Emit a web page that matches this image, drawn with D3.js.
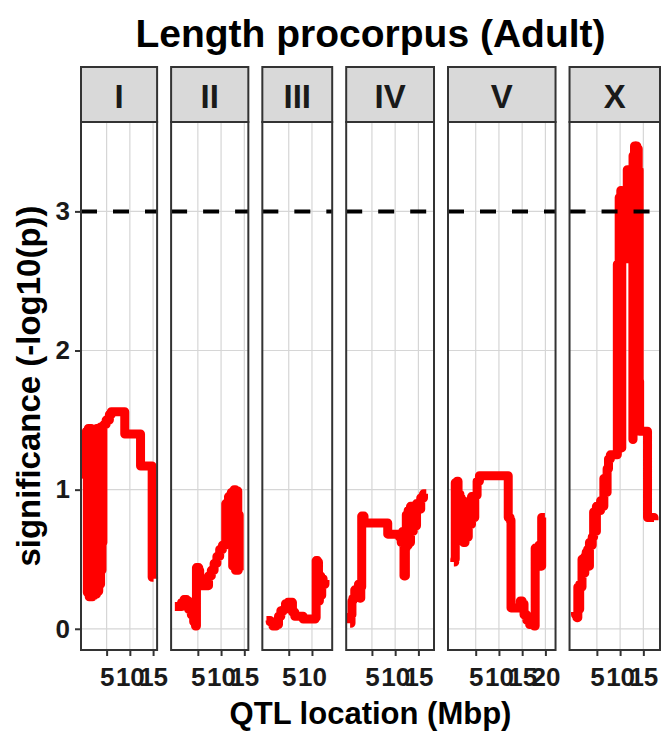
<!DOCTYPE html>
<html>
<head>
<meta charset="utf-8">
<script src="https://cdn.jsdelivr.net/npm/d3@7/dist/d3.min.js"></script>
<style>
  body { margin: 0; background: #fff; }
  svg { display: block; }
  text { font-family: "Liberation Sans", Arial, sans-serif; font-weight: bold; }
</style>
</head>
<body>
<svg id="chart" width="661" height="733"></svg>
<script>
// ---- data -------------------------------------------------------------
const chromosomes = ["I", "II", "III", "IV", "V", "X"];
// physical span (Mbp) covered by markers on each chromosome
const spanStart = [0.23, 0.00, 0.00, 0.32, 0.09, 0.00];
const spanEnd   = [15.12, 15.11, 13.67, 17.50, 21.13, 17.70];
const xTickValues = [[5, 10, 15], [5, 10, 15], [5, 10], [5, 10, 15], [5, 10, 15, 20], [5, 10, 15]];
const yTickValues = [0, 1, 2, 3];
const threshold = 3;

const posI = [0.30, 0.35, 0.55, 0.65, 0.85, 1.05, 1.25, 1.50, 1.70, 1.95, 2.15, 2.40, 2.60, 2.85, 3.05, 3.30, 3.50, 3.70, 3.85, 4.00, 4.10, 4.20, 4.50, 4.90, 5.30, 5.60, 6.00, 8.90, 12.30, 14.80, 15.10];
const sigI = [1.08, 1.33, 1.10, 1.42, 0.26, 1.44, 0.23, 1.44, 0.23, 1.43, 0.24, 1.43, 0.25, 1.44, 0.27, 1.44, 0.32, 1.45, 0.42, 1.45, 0.62, 1.46, 1.47, 1.50, 1.50, 1.54, 1.56, 1.40, 1.17, 0.37, 0.36];

const posII = [0.05, 1.00, 1.50, 2.00, 2.60, 3.00, 3.60, 4.10, 4.50, 4.70, 5.20, 5.40, 7.00, 7.30, 7.90, 8.50, 9.10, 9.70, 10.30, 10.90, 11.00, 11.30, 11.60, 11.90, 12.20, 12.50, 12.80, 13.10, 13.30, 13.60, 13.70, 13.90];
const sigII = [0.16, 0.16, 0.19, 0.21, 0.20, 0.14, 0.10, 0.05, 0.02, 0.44, 0.42, 0.31, 0.31, 0.38, 0.42, 0.47, 0.52, 0.57, 0.60, 0.62, 0.90, 0.63, 0.95, 0.66, 0.98, 0.45, 1.00, 0.42, 0.99, 0.42, 0.82, 0.42];

const posIII = [0.20, 1.00, 1.60, 2.30, 2.80, 3.30, 3.90, 4.30, 4.80, 5.50, 5.80, 6.30, 7.60, 8.10, 9.50, 10.70, 10.90, 11.20, 11.40, 11.60, 11.90, 12.10, 12.40, 12.80];
const sigIII = [0.06, 0.05, 0.02, 0.03, 0.09, 0.13, 0.14, 0.18, 0.19, 0.19, 0.12, 0.09, 0.09, 0.07, 0.07, 0.08, 0.49, 0.48, 0.20, 0.38, 0.24, 0.36, 0.32, 0.35];

const posIV = [0.30, 0.50, 0.70, 0.90, 1.30, 1.70, 2.10, 2.40, 2.60, 2.80, 3.30, 8.40, 10.90, 11.30, 11.60, 11.90, 12.20, 12.40, 12.60, 12.80, 13.00, 13.30, 13.60, 13.90, 14.20, 14.60, 15.00, 15.50, 16.10, 16.70];
const sigIV = [0.04, 0.10, 0.20, 0.22, 0.28, 0.26, 0.32, 0.22, 0.30, 0.81, 0.76, 0.68, 0.66, 0.62, 0.70, 0.38, 0.58, 0.82, 0.60, 0.85, 0.62, 0.88, 0.70, 0.85, 0.74, 0.90, 0.86, 0.94, 0.97, 0.97];

const posV = [0.30, 0.50, 0.60, 1.00, 1.20, 1.60, 1.80, 2.10, 2.40, 2.70, 3.00, 3.40, 3.70, 4.10, 4.40, 4.80, 5.30, 5.80, 12.00, 12.40, 12.60, 14.30, 14.60, 15.00, 15.40, 16.00, 16.60, 17.60, 17.80, 18.20, 18.60, 18.90, 19.20, 19.90];
const sigV = [0.48, 0.50, 1.05, 1.06, 0.97, 0.95, 0.70, 0.92, 0.62, 0.88, 0.66, 0.85, 0.75, 0.95, 0.80, 0.96, 1.06, 1.10, 0.80, 0.78, 0.15, 0.15, 0.20, 0.18, 0.10, 0.06, 0.03, 0.02, 0.58, 0.55, 0.60, 0.45, 0.80, 0.80];

const posX = [0.20, 0.40, 0.70, 0.90, 1.10, 1.30, 1.60, 1.80, 2.10, 2.40, 2.70, 3.00, 3.20, 3.40, 3.70, 4.00, 4.30, 4.60, 4.90, 5.40, 5.80, 6.10, 6.50, 6.90, 7.20, 7.50, 7.90, 9.40, 9.60, 9.80, 10.00, 10.15, 10.33, 10.36, 11.54, 12.75, 12.78, 13.00, 13.10, 13.30, 13.40, 13.60, 13.70, 13.90, 14.00, 14.10, 14.20, 15.90, 17.30];
const sigX = [0.12, 0.10, 0.08, 0.30, 0.14, 0.32, 0.30, 0.50, 0.40, 0.52, 0.55, 0.57, 0.45, 0.62, 0.60, 0.66, 0.84, 0.70, 0.88, 0.85, 0.92, 0.88, 1.08, 0.98, 1.15, 1.22, 1.25, 2.62, 1.30, 3.10, 1.30, 3.15, 1.30, 2.66, 3.30, 1.36, 3.40, 1.45, 3.47, 1.50, 3.47, 1.55, 3.45, 1.60, 3.30, 1.78, 1.42, 0.80, 0.78];

const positions = [posI, posII, posIII, posIV, posV, posX];
const significance = [sigI, sigII, sigIII, sigIV, sigV, sigX];

// ---- layout -----------------------------------------------------------
const svg = d3.select("#chart");
const plotLeft = 81, plotRight = 660, panelGap = 14;
const stripTop = 67, panelTop = 122, panelBottom = 650;
const lineColor = "#ff0000", borderColor = "#333333", gridColor = "#d6d6d6";

const expanded = chromosomes.map((c, i) => {
  const r = spanEnd[i] - spanStart[i];
  return [spanStart[i] - 0.05 * r, spanEnd[i] + 0.05 * r];
});
const totalRange = d3.sum(expanded, d => d[1] - d[0]);
const pxPerMb = (plotRight - plotLeft - panelGap * (chromosomes.length - 1)) / totalRange;

let cursor = plotLeft;
const panels = chromosomes.map((c, i) => {
  const w = (expanded[i][1] - expanded[i][0]) * pxPerMb;
  const x = d3.scaleLinear().domain(expanded[i]).range([cursor, cursor + w]);
  const p = { name: c, x, left: cursor, width: w, i };
  cursor += w + panelGap;
  return p;
});

const allSig = significance.flat();
const sigMin = d3.min(allSig), sigMax = d3.max(allSig);
const sigPad = 0.05 * (sigMax - sigMin);
const y = d3.scaleLinear().domain([sigMin - sigPad, sigMax + sigPad]).range([panelBottom, panelTop]);

// ---- panels -----------------------------------------------------------
panels.forEach(p => {
  const g = svg.append("g");
  const data = positions[p.i].map((m, k) => ({ mb: m, sig: significance[p.i][k] }));

  g.append("rect").attr("x", p.left).attr("y", panelTop).attr("width", p.width)
    .attr("height", panelBottom - panelTop).attr("fill", "#fff");

  // grid
  g.selectAll(".gy").data(yTickValues).join("line")
    .attr("x1", p.left).attr("x2", p.left + p.width)
    .attr("y1", d => y(d)).attr("y2", d => y(d))
    .attr("stroke", gridColor).attr("stroke-width", 1.2);
  g.selectAll(".gx").data(xTickValues[p.i]).join("line")
    .attr("x1", d => p.x(d)).attr("x2", d => p.x(d))
    .attr("y1", panelTop).attr("y2", panelBottom)
    .attr("stroke", gridColor).attr("stroke-width", 1.2);

  // significance trace (marker blocks)
  const line = d3.line().curve(d3.curveStepAfter).x(d => p.x(d.mb)).y(d => y(d.sig));
  g.append("path").datum(data).attr("d", line)
    .attr("fill", "none").attr("stroke", lineColor).attr("stroke-width", 9)
    .attr("stroke-linejoin", "round").attr("stroke-linecap", "butt");

  // significance threshold
  g.append("line")
    .attr("x1", p.left).attr("x2", p.left + p.width)
    .attr("y1", y(threshold)).attr("y2", y(threshold))
    .attr("stroke", "#000").attr("stroke-width", 4).attr("stroke-dasharray", "16,16");

  // border
  g.append("rect").attr("x", p.left).attr("y", panelTop).attr("width", p.width)
    .attr("height", panelBottom - panelTop).attr("fill", "none")
    .attr("stroke", borderColor).attr("stroke-width", 2);

  // strip
  g.append("rect").attr("x", p.left).attr("y", stripTop).attr("width", p.width)
    .attr("height", panelTop - stripTop).attr("fill", "#d9d9d9")
    .attr("stroke", borderColor).attr("stroke-width", 2);
  g.append("text").attr("x", p.left + p.width / 2).attr("y", 108)
    .attr("text-anchor", "middle").attr("font-size", 33).attr("fill", "#1a1a1a")
    .text(p.name);

  // x axis
  const ax = svg.append("g").attr("transform", `translate(0,${panelBottom})`)
    .call(d3.axisBottom(p.x).tickValues(xTickValues[p.i]).tickSize(6).tickPadding(12).tickFormat(d3.format("d")));
  ax.select(".domain").remove();
  ax.selectAll(".tick line").attr("stroke", borderColor).attr("stroke-width", 2);
  ax.selectAll(".tick text").attr("font-size", 26).attr("fill", "#1a1a1a")
    .attr("font-family", "Liberation Sans, Arial, sans-serif").attr("font-weight", "bold");
});

// y axis
const ay = svg.append("g").attr("transform", `translate(${plotLeft},0)`)
  .call(d3.axisLeft(y).tickValues(yTickValues).tickSize(6).tickPadding(5).tickFormat(d3.format("d")));
ay.select(".domain").remove();
ay.selectAll(".tick line").attr("stroke", borderColor).attr("stroke-width", 2);
ay.selectAll(".tick text").attr("font-size", 26).attr("fill", "#1a1a1a")
  .attr("font-family", "Liberation Sans, Arial, sans-serif").attr("font-weight", "bold");

// titles
const centerX = (plotLeft + plotRight) / 2;
svg.append("text").attr("x", centerX).attr("y", 47).attr("text-anchor", "middle")
  .attr("font-size", 39).attr("fill", "#000").text("Length procorpus (Adult)");
svg.append("text").attr("x", centerX).attr("y", 724).attr("text-anchor", "middle")
  .attr("font-size", 31).attr("fill", "#000").text("QTL location (Mbp)");
svg.append("text").attr("transform", `translate(40,${(panelTop + panelBottom) / 2}) rotate(-90)`)
  .attr("text-anchor", "middle").attr("font-size", 33).attr("fill", "#000")
  .text("significance (-log10(p))");
</script>
</body>
</html>
